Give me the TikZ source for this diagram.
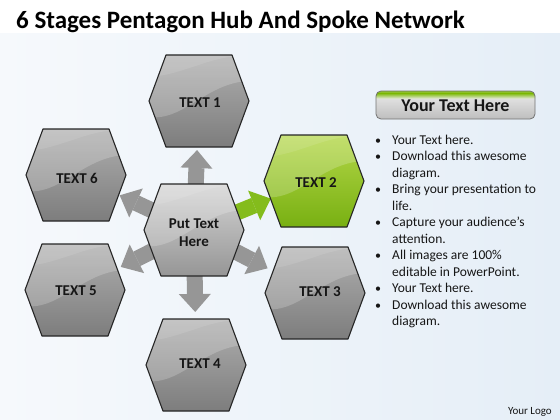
\documentclass[tikz,border=0pt]{standalone}
\usepackage{fontspec}
\setmainfont{Carlito}
\usetikzlibrary{arrows.meta,calc}
\definecolor{bgA}{RGB}{246,249,252}
\definecolor{bgB}{RGB}{229,238,247}
\definecolor{hexTop}{RGB}{175,175,175}
\definecolor{hexBot}{RGB}{125,125,125}
\definecolor{hubTop}{RGB}{212,212,212}
\definecolor{hubBot}{RGB}{150,150,150}
\definecolor{grnTop}{RGB}{180,215,72}
\definecolor{grnBot}{RGB}{120,176,18}
\definecolor{spokeGray}{RGB}{150,150,150}
\definecolor{spokeGreen}{RGB}{132,188,28}
\definecolor{rim}{RGB}{38,38,38}
\definecolor{txt}{RGB}{22,22,22}
\definecolor{hdrTop}{RGB}{236,236,236}
\definecolor{hdrBot}{RGB}{190,190,190}
\definecolor{hdrGreen}{RGB}{140,192,40}
\tikzset{
  graystyle/.style={top color=hexTop, bottom color=hexBot},
  hubstyle/.style={top color=hubTop, bottom color=hubBot},
  greenstyle/.style={top color=grnTop, bottom color=grnBot},
  spoke/.style={draw=spokeGray, line width=16pt, -{Triangle[width=32pt,length=18pt,line width=0pt]}},
  greenspoke/.style={spoke, draw=spokeGreen},
  hexlabel/.style={font=\fontsize{15}{18}\selectfont\bfseries, text=txt, align=center, inner sep=0pt},
  bodytext/.style={font=\fontsize{13.5}{16.5}\selectfont, text=txt, anchor=base west, inner sep=0pt},
  bulletmark/.style={font=\fontsize{12}{16.5}\selectfont, text=txt, anchor=base, inner sep=0pt},
}
\newcommand\drawhex[3]{%
  \begin{scope}[shift={(#1,#2)}]
    \path[#3] (-50,0) -- (-33,-46) -- (33,-46) -- (50,0) -- (33,46) -- (-33,46) -- cycle;
    \begin{scope}
      \clip (-50,0) -- (-33,-46) -- (33,-46) -- (50,0) -- (33,46) -- (-33,46) -- cycle;
      \fill[white, opacity=.20] (-60,-60) -- (-60,14) .. controls (-15,28) and (5,-24) .. (60,-20) -- (60,-60) -- cycle;
      \fill[white, opacity=.10] (-60,-60) -- (-60,-25) .. controls (-20,-20) and (10,-50) .. (60,-45) -- (60,-60) -- cycle;
    \end{scope}
    \draw[rim, line width=1.1pt, line join=round] (-50,0) -- (-33,-46) -- (33,-46) -- (50,0) -- (33,46) -- (-33,46) -- cycle;
  \end{scope}}
\begin{document}
\begin{tikzpicture}[x=1pt, y=-1pt]
\useasboundingbox (0,0) rectangle (560,420);
% background
\fill[white] (0,0) rectangle (560,34);
\fill[left color=bgA, right color=bgB] (0,34) rectangle (560,420);

% title
\node[anchor=base west, inner sep=0pt, font=\fontsize{25}{28}\selectfont\bfseries, text=black] (title) at (16,29) {6 Stages Pentagon Hub And Spoke Network};

% hub and spoke coordinates
\coordinate (hub) at (194,230);
\coordinate (c1) at (199,101);
\coordinate (c2) at (314,181);
\coordinate (c3) at (315,293);
\coordinate (c4) at (196,365);
\coordinate (c5) at (75,290);
\coordinate (c6) at (76,175);

% spokes
\draw[spoke] (hub) -- ($(hub)!80pt!(c1)$);
\draw[spoke] (hub) -- ($(hub)!82pt!(c4)$);
\draw[spoke] (hub) -- ($(hub)!83pt!(c3)$);
\draw[spoke] (hub) -- ($(hub)!82pt!(c5)$);
\draw[spoke] (hub) -- ($(hub)!82pt!(c6)$);
\draw[greenspoke] (hub) -- ($(hub)!83pt!(c2)$);

% hexagons
\drawhex{194}{230}{hubstyle}
\drawhex{199}{101}{graystyle}
\drawhex{314}{181}{greenstyle}
\drawhex{315}{293}{graystyle}
\drawhex{196}{365}{graystyle}
\drawhex{75}{290}{graystyle}
\drawhex{76}{175}{graystyle}

% labels
\node[hexlabel] (hubt) at (194,233) {Put Text\\Here};
\node[hexlabel] (t1) at (200,103) {TEXT 1};
\node[hexlabel] (t2) at (316,183) {TEXT 2};
\node[hexlabel] (t3) at (320,292) {TEXT 3};
\node[hexlabel] (t4) at (200,364) {TEXT 4};
\node[hexlabel] (t5) at (76,291) {TEXT 5};
\node[hexlabel] (t6) at (77,178) {TEXT 6};

% header box
\path[top color=hdrTop, bottom color=hdrBot, rounded corners=5pt] (376,91) rectangle (535,119);
\begin{scope}
  \clip[rounded corners=5pt] (376,91) rectangle (535,119);
  \fill[hdrGreen] (376,91) rectangle (535,94);
  \fill[top color=hdrGreen, bottom color=hdrTop] (376,94) rectangle (535,99);
\end{scope}
\draw[black!55, line width=0.8pt, rounded corners=5pt] (376,91) rectangle (535,119);
\node[font=\fontsize{18}{20}\selectfont\bfseries, text=txt, inner sep=0pt] (hdr) at (455.5,106) {Your Text Here};

% bullet text
\foreach \t [count=\i] in {Your Text here.,Download this awesome,diagram.,Bring your presentation to,life.,Capture your audience’s,attention.,All images are 100\%,editable in PowerPoint.,Your Text here.,Download this awesome,diagram.}
  \node[bodytext] (l\i) at (392,{144+16.5*(\i-1)}) {\t};
\foreach \i in {1,2,4,6,8,10,11}
  \node[bulletmark] (b\i) at (378,{144+16.5*(\i-1)}) {•};

% logo
\node[anchor=base east, inner sep=0pt, font=\fontsize{11}{13}\selectfont, text=txt] (logo) at (552,414) {Your Logo};
\end{tikzpicture}
\end{document}
